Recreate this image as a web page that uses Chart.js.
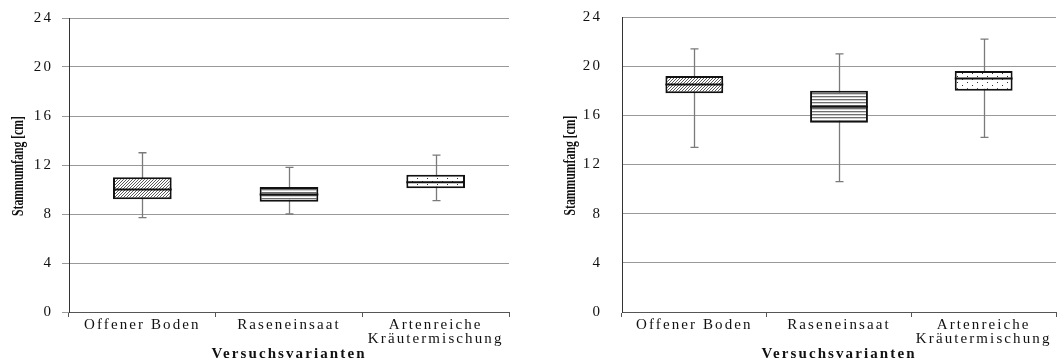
<!DOCTYPE html>
<html><head><meta charset="utf-8">
<script src="https://cdn.jsdelivr.net/npm/chart.js@4.4.0/dist/chart.umd.min.js"></script>
<style>
html,body{margin:0;padding:0;background:#fff;overflow:hidden}
#wrap{position:relative;width:1063px;height:363px}
#c1{position:absolute;left:0;top:0}
#c2{position:absolute;left:530px;top:0}
</style></head><body>
<div id="wrap"><canvas id="c1" width="530" height="363"></canvas><canvas id="c2" width="533" height="363"></canvas></div>
<script>
const categories = ['Offener Boden', 'Raseneinsaat', ['Artenreiche', 'Kräutermischung']];
const yTickValues = [0, 4, 8, 12, 16, 20, 24];
const yAxisTitle = 'Stammumfang [cm]';
const xAxisTitle = 'Versuchsvarianten';

// left panel
const leftMin    = [7.7, 8.0, 9.1];
const leftQ1     = [9.2, 9.0, 10.1];
const leftMedian = [10.0, 9.6, 10.6];
const leftQ3     = [11.0, 10.2, 11.2];
const leftMax    = [13.0, 11.8, 12.8];

// right panel
const rightMin    = [13.4, 10.6, 14.2];
const rightQ1     = [17.8, 15.4, 18.0];
const rightMedian = [18.5, 16.7, 19.0];
const rightQ3     = [19.2, 18.0, 19.6];
const rightMax    = [21.4, 21.0, 22.2];

function makePattern(kind) {
  const c = document.createElement('canvas');
  const g = c.getContext('2d');
  if (kind === 'hatch') {
    c.width = 3; c.height = 3;
    g.fillStyle = '#fff'; g.fillRect(0, 0, 3, 3);
    g.fillStyle = '#5a5a5a';
    for (let i = 0; i < 3; i++) g.fillRect(2 - i, i, 1, 1);
  } else if (kind === 'lines') {
    c.width = 4; c.height = 3;
    g.fillStyle = '#fff'; g.fillRect(0, 0, 4, 3);
    g.fillStyle = '#6e6e6e'; g.fillRect(0, 0, 4, 1);
    g.fillStyle = '#d0d0d0'; g.fillRect(0, 1, 4, 1);
  } else {
    c.width = 10; c.height = 6;
    g.fillStyle = '#fff'; g.fillRect(0, 0, 10, 6);
    g.fillStyle = '#333';
    g.fillRect(2, 1, 1, 1);
    g.fillRect(7, 4, 1, 1);
  }
  return g.createPattern(c, 'repeat');
}

const FONT = 'Liberation Serif';
const LS = '2.1px';

function makeBoxPlugin(minA, medA, maxA) {
  return {
    id: 'boxWhisker',
    beforeLayout(chart) { chart.ctx.letterSpacing = LS; },
    beforeDraw(chart) { chart.ctx.letterSpacing = LS; },
    beforeDatasetsDraw(chart) {
      const y = chart.scales.y, ctx = chart.ctx;
      const meta = chart.getDatasetMeta(0);
      ctx.save();
      ctx.strokeStyle = '#7a7a7a'; ctx.lineWidth = 1.3;
      meta.data.forEach((bar, i) => {
        const x = Math.round(bar.x) + 0.5;
        const y0 = y.getPixelForValue(minA[i]), y1 = y.getPixelForValue(maxA[i]);
        ctx.beginPath();
        ctx.moveTo(x, y0); ctx.lineTo(x, y1);
        ctx.moveTo(x - 4, y0); ctx.lineTo(x + 4, y0);
        ctx.moveTo(x - 4, y1); ctx.lineTo(x + 4, y1);
        ctx.stroke();
      });
      ctx.restore();
    },
    afterDatasetsDraw(chart) {
      const y = chart.scales.y, ctx = chart.ctx;
      const meta = chart.getDatasetMeta(0);
      ctx.save();
      ctx.strokeStyle = '#111'; ctx.lineWidth = 2;
      meta.data.forEach((bar, i) => {
        const ym = y.getPixelForValue(medA[i]);
        ctx.beginPath();
        ctx.moveTo(bar.x - bar.width / 2, ym); ctx.lineTo(bar.x + bar.width / 2, ym);
        ctx.stroke();
      });
      ctx.restore();
    }
  };
}

function makeYTitlePlugin(cx) {
  return {
    id: 'yTitle',
    afterDraw(chart) {
      const ctx = chart.ctx, a = chart.chartArea;
      ctx.save();
      ctx.letterSpacing = '0px';
      ctx.font = 'bold 17px "' + FONT + '"';
      ctx.fillStyle = '#111';
      const w = ctx.measureText(yAxisTitle).width;
      const target = 100;
      ctx.translate(cx, (a.top + a.bottom) / 2 + 1);
      ctx.rotate(-Math.PI / 2);
      ctx.scale(target / w, 1);
      ctx.textAlign = 'center'; ctx.textBaseline = 'middle';
      ctx.fillText(yAxisTitle, 0, 0);
      ctx.restore();
    }
  };
}

function buildChart(id, q1, q3, minA, medA, maxA, o) {
  const patterns = [makePattern('hatch'), makePattern('lines'), makePattern('dots')];
  return new Chart(document.getElementById(id), {
    type: 'bar',
    data: {
      labels: categories,
      datasets: [{
        data: categories.map((c, i) => [q1[i], q3[i]]),
        backgroundColor: patterns,
        borderColor: '#111',
        borderWidth: 2,
        borderSkipped: false,
        barPercentage: 0.4,
        categoryPercentage: 1.0
      }]
    },
    options: {
      responsive: false,
      animation: false,
      devicePixelRatio: 1,
      layout: { padding: { top: 16, right: o.padRight, left: 0, bottom: 0 } },
      plugins: { legend: { display: false }, tooltip: { enabled: false } },
      scales: {
        x: {
          grid: { display: true, drawOnChartArea: false, drawTicks: true, tickLength: 5, offset: true, color: '#555', lineWidth: 1 },
          border: { display: true, color: '#555', width: 1 },
          ticks: { color: '#111', font: { family: FONT, size: 15, lineHeight: 0.92 }, padding: 1, maxRotation: 0, minRotation: 0, autoSkip: false },
          title: { display: true, text: xAxisTitle, color: '#111', font: { family: FONT, size: 15, weight: 'bold', lineHeight: 1.2 }, padding: { top: 0, bottom: 0 } },
          afterFit(s) { s.height = 51; }
        },
        y: {
          min: 0, max: 24,
          afterBuildTicks(s) { s.ticks = yTickValues.map(v => ({ value: v })); },
          grid: { color: '#999', lineWidth: 1, drawTicks: true, tickLength: o.yTick, tickColor: o.tickColor },
          border: { display: true, color: '#333', width: 1 },
          ticks: { color: '#111', font: { family: FONT, size: 15 }, padding: o.yPad },
          afterFit(s) { s.width = o.yWidth; }
        }
      }
    },
    plugins: [makeBoxPlugin(minA, medA, maxA), makeYTitlePlugin(o.titleX)]
  });
}

buildChart('c1', leftQ1, leftQ3, leftMin, leftMedian, leftMax,
  { padRight: 21, yWidth: 69, yTick: 7, tickColor: '#999', yPad: 9, titleX: 18.5 });
buildChart('c2', rightQ1, rightQ3, rightMin, rightMedian, rightMax,
  { padRight: 7, yWidth: 92, yTick: 12, tickColor: 'rgba(0,0,0,0)', yPad: 8, titleX: 40.5 });
</script>
</body></html>
